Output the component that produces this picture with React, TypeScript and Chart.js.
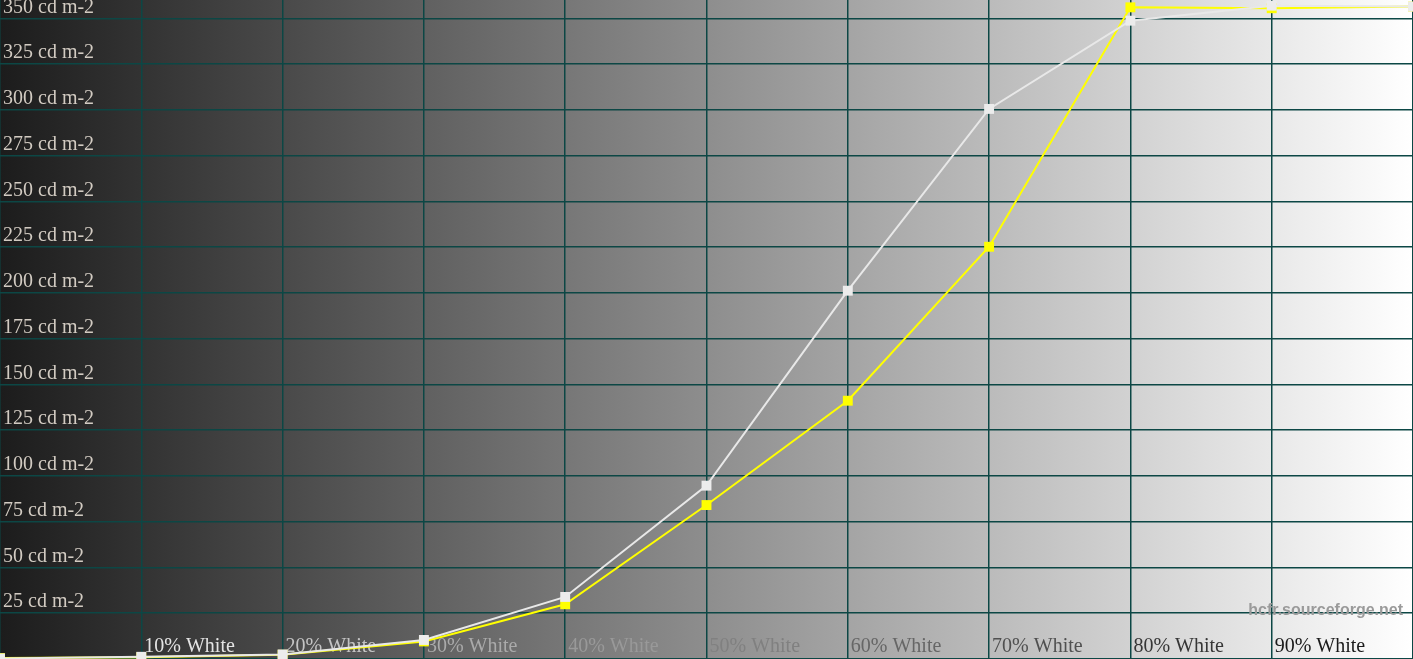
import { useEffect, useRef } from 'react';
import { Chart, registerables } from 'chart.js';

Chart.register(...registerables);

// stimulus level (% white) and measured luminance (cd/m2)
const stimulus = ['0%', '10%', '20%', '30%', '40%', '50%', '60%', '70%', '80%', '90%', '100%'];
const xTickLabels = ['', '10% White', '20% White', '30% White', '40% White', '50% White',
  '60% White', '70% White', '80% White', '90% White', ''];
const xTickColors = ['#eeeeee', '#e4e4e4', '#c4c4c4', '#aaaaaa', '#999999', '#808080',
  '#666666', '#505050', '#363636', '#1a1a1a', '#111111'];
const whiteLum = [0.3, 1.2, 2.5, 10.4, 33.9, 94.7, 201.2, 300.5, 348.7, 356.9, 356.4];
const yellowLum = [0.5, 1.0, 2.3, 9.6, 29.9, 84.1, 141.1, 225.2, 356.0, 355.5, 356.4];
const yMax = 360;
const yStep = 25;
const yUnit = 'cd m-2';
const WATERMARK = 'hcfr.sourceforge.net';

const GRID = '#0c4745';
const SERIF = '"Liberation Serif", "DejaVu Serif", serif';

// axes are drawn inside the plot, so they take no room at all
const noRoom = (s: any) => {
  if (s.isHorizontal()) s.height = 0; else s.width = 0;
  s.paddingTop = 0; s.paddingBottom = 0; s.paddingLeft = 0; s.paddingRight = 0;
};

const watermark = {
  id: 'watermark',
  afterDatasetsDraw(chart: Chart) {
    const { ctx, chartArea } = chart;
    ctx.save();
    ctx.font = 'bold 16px "Liberation Sans", Arial, sans-serif';
    ctx.fillStyle = '#9a9a9a';
    ctx.textAlign = 'right';
    ctx.textBaseline = 'middle';
    ctx.fillText(WATERMARK, chartArea.right - 10, chartArea.bottom - 48);
    ctx.restore();
  },
};

export default function App() {
  const canvasRef = useRef<HTMLCanvasElement>(null);

  useEffect(() => {
    if (!canvasRef.current) return;
    const chart = new Chart(canvasRef.current, {
      type: 'line',
      data: {
        labels: stimulus,
        datasets: [
          {
            label: 'White',
            data: whiteLum,
            borderColor: '#e8e8e8',
            backgroundColor: '#ececec',
            borderWidth: 2,
            pointStyle: 'rect',
            pointRadius: 7,
            pointBorderWidth: 0,
            pointBackgroundColor: '#ececec',
            tension: 0,
          },
          {
            label: 'Yellow',
            data: yellowLum,
            borderColor: '#ffff00',
            backgroundColor: '#ffff00',
            borderWidth: 2,
            pointStyle: 'rect',
            pointRadius: 7,
            pointBorderWidth: 0,
            pointBackgroundColor: '#ffff00',
            tension: 0,
          },
        ],
      },
      options: {
        responsive: true,
        maintainAspectRatio: false,
        animation: false,
        layout: { padding: 0, autoPadding: false },
        plugins: {
          legend: { display: false },
          tooltip: { enabled: false },
        },
        scales: {
          x: {
            type: 'category',
            offset: false,
            afterFit: noRoom,
            grid: { color: GRID, lineWidth: 1.5, drawTicks: false, offset: false },
            border: { display: false },
            ticks: {
              mirror: true,
              padding: 0,
              align: 'start',
              labelOffset: 3,
              autoSkip: false,
              maxRotation: 0,
              color: (ctx: any) => xTickColors[ctx.index],
              font: { family: SERIF, size: 20 },
              callback: (_v: any, i: number) => xTickLabels[i],
            },
          },
          y: {
            type: 'linear',
            min: 0,
            max: yMax,
            afterFit: noRoom,
            grid: { color: GRID, lineWidth: 1.5, drawTicks: false },
            border: { display: false },
            ticks: {
              mirror: true,
              padding: 3,
              stepSize: yStep,
              includeBounds: false,
              labelOffset: -11,
              color: '#d2cbc2',
              font: { family: SERIF, size: 20 },
              callback: (v: any) => (v === 0 ? '' : `${v} ${yUnit}`),
            },
          },
        },
      },
      plugins: [watermark],
    });
    return () => { chart.destroy(); };
  }, []);

  return (
    <div
      style={{
        position: 'fixed', left: 0, top: 0, width: '100vw', height: '100vh',
        background: 'linear-gradient(to right, #1c1c1c, #ffffff)',
      }}
    >
      <canvas ref={canvasRef} />
    </div>
  );
}
